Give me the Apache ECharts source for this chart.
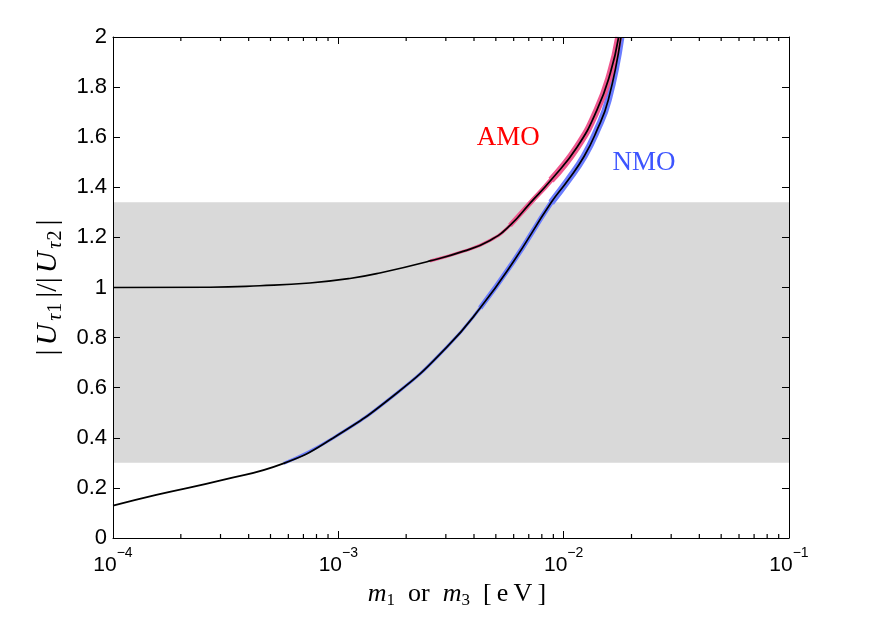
<!DOCTYPE html>
<html><head><meta charset="utf-8">
<script src="https://cdn.jsdelivr.net/npm/echarts@6/dist/echarts.min.js"></script>
<style>html,body{margin:0;padding:0;background:#fff}#c{width:872px;height:626px}</style>
</head><body><div id="c"></div>
<script>
// ---- data ----
const amoM = [1e-4, 2.685e-4, 4.48e-4, 7.47e-4, 1.125e-3, 1.528e-3, 2.551e-3, 3.574e-3, 4.71e-3, 5.78e-3, 7.10e-3, 8.79e-3, 1.148e-2, 1.406e-2, 1.61e-2, 1.753e-2];
const amoV = [1.0, 1.001, 1.007, 1.018, 1.036, 1.058, 1.106, 1.144, 1.188, 1.248, 1.337, 1.429, 1.561, 1.709, 1.855, 1.999];
const nmoM = [1e-4, 1.556e-4, 3.076e-4, 5.72e-4, 9.17e-4, 1.815e-3, 3.03e-3, 4.26e-3, 5.97e-3, 8.80e-3, 1.047e-2, 1.233e-2, 1.393e-2, 1.578e-2, 1.795e-2];
const nmoV = [0.129, 0.172, 0.232, 0.298, 0.391, 0.578, 0.762, 0.918, 1.102, 1.339, 1.429, 1.524, 1.620, 1.749, 1.999];
const shadedBand = [0.30, 1.34];
const xMajorTicks = [1e-4, 1e-3, 1e-2, 1e-1];
const xMinorTicks = [2e-4,3e-4,4e-4,5e-4,6e-4,7e-4,8e-4,9e-4,2e-3,3e-3,4e-3,5e-3,6e-3,7e-3,8e-3,9e-3,2e-2,3e-2,4e-2,5e-2,6e-2,7e-2,8e-2,9e-2];
const yRange = [0, 2];
const textLabels = ['AMO', 'NMO'];
const textLabelM = [5.68e-3, 2.27e-2];
const textLabelV = [1.597, 1.497];
const textLabelColors = ['#ff0000', '#3d55ff'];

const pairs = (ms, vs, from) => ms.map((m, i) => [m, vs[i]]).slice(from || 0);
const AMO_BAND = '#f0588f', NMO_BAND = '#6b7dff';

const chart = echarts.init(document.getElementById('c'), null, {renderer: 'canvas'});
const tickFont = 'Liberation Sans';
const serif = 'Liberation Serif';

function bandSeries(data, color, width) {
  return {type: 'line', data: data, showSymbol: false, smooth: 0.5,
    lineStyle: {color: color, width: width}, silent: true, z: 3};
}
function curveSeries(data) {
  return {type: 'line', data: data, showSymbol: false, smooth: 0.5,
    lineStyle: {color: '#000', width: 1.7}, z: 5, silent: true};
}
// minor x ticks (bottom and mirrored top, pointing inward), placed through the axis scale
function tickSeries(values, len) {
  return {type: 'custom', coordinateSystem: 'cartesian2d', xAxisIndex: 0, yAxisIndex: 0,
    data: values.map(v => [v, yRange[0]]), clip: false, silent: true, z: 8,
    renderItem: (params, api) => {
      const pb = api.coord([api.value(0), yRange[0]]);
      const pt = api.coord([api.value(0), yRange[1]]);
      const st = {stroke: '#000', lineWidth: 1.2};
      return {type: 'group', children: [
        {type: 'line', shape: {x1: pb[0], y1: pb[1], x2: pb[0], y2: pb[1] - len}, style: st},
        {type: 'line', shape: {x1: pt[0], y1: pt[1], x2: pt[0], y2: pt[1] + len}, style: st}
      ]};
    }};
}
const majorTick = {show: true, inside: true, length: 7, lineStyle: {color: '#000', width: 1}};

const option = {
  animation: false,
  backgroundColor: '#fff',
  grid: {left: 113, right: 83, top: 37, bottom: 88},
  xAxis: [
    {type: 'log', logBase: 10, min: xMajorTicks[0], max: xMajorTicks[3], position: 'bottom', z: 10,
     axisLine: {onZero: false, lineStyle: {color: '#000', width: 1}},
     axisTick: majorTick,
     splitLine: {show: false},
     axisLabel: {margin: 8, color: '#000',
       formatter: v => { const e = Math.round(Math.log10(v)); return '{b|10}{s|' + (e < 0 ? '\u2212' : '') + Math.abs(e) + '}'; },
       rich: {
         b: {fontFamily: tickFont, fontSize: 21, color: '#000', lineHeight: 30, verticalAlign: 'bottom'},
         s: {fontFamily: tickFont, fontSize: 14, color: '#000', lineHeight: 10, verticalAlign: 'top'}
       }},
     name: '{p|}{i|m}{u|1}{r|  or  }{i|m}{u|3}{r|  [\u2009e\u2009V\u2009]}', nameLocation: 'middle', nameGap: 32,
     nameTextStyle: {rich: {
       p: {width: 12, lineHeight: 10},
       i: {fontFamily: serif, fontStyle: 'italic', fontSize: 26, color: '#000', lineHeight: 28, verticalAlign: 'top'},
       r: {fontFamily: serif, fontSize: 26, color: '#000', lineHeight: 28, verticalAlign: 'top'},
       u: {fontFamily: serif, fontSize: 17, color: '#000', lineHeight: 10, verticalAlign: 'bottom'}
     }}},
    {type: 'log', logBase: 10, min: xMajorTicks[0], max: xMajorTicks[3], position: 'top', z: 10,
     axisLine: {onZero: false, lineStyle: {color: '#000', width: 1}},
     axisTick: majorTick, axisLabel: {show: false}, splitLine: {show: false}}
  ],
  yAxis: [
    {type: 'value', min: yRange[0], max: yRange[1], interval: 0.2, position: 'left', z: 10,
     axisLine: {show: true, onZero: false, lineStyle: {color: '#000', width: 1}},
     axisTick: majorTick,
     splitLine: {show: false},
     axisLabel: {margin: 6, color: '#000', fontFamily: tickFont, fontSize: 22},
     name: '{b||}{i|U}{t|\u03c4}{d|1}{b||/|}{i|U}{t|\u03c4}{d|2}{b||}',
     nameLocation: 'middle', nameGap: 30, nameRotate: 90,
     nameTextStyle: {rich: {
       i: {fontFamily: serif, fontStyle: 'italic', fontSize: 30, color: '#000', lineHeight: 32, verticalAlign: 'top', padding: [0, 1, 0, 1]},
       b: {fontFamily: serif, fontSize: 30, color: '#000', lineHeight: 32, verticalAlign: 'top', padding: [0, 3, 0, 3]},
       t: {fontFamily: serif, fontStyle: 'italic', fontSize: 20, color: '#000', lineHeight: 10, verticalAlign: 'bottom', padding: [0, 1, 0, 2]},
       d: {fontFamily: serif, fontSize: 20, color: '#000', lineHeight: 10, verticalAlign: 'bottom', padding: [0, 2, 0, 0]}
     }}},
    {type: 'value', min: yRange[0], max: yRange[1], interval: 0.2, position: 'right', z: 10,
     axisLine: {show: true, onZero: false, lineStyle: {color: '#000', width: 1}},
     axisTick: majorTick,
     axisLabel: {show: false}, splitLine: {show: false}}
  ],
  series: [
    tickSeries(xMinorTicks, 4),
    {type: 'line', data: [], silent: true, z: 1,
     markArea: {silent: true, itemStyle: {color: '#d9d9d9'},
       data: [[{yAxis: shadedBand[0]}, {yAxis: shadedBand[1]}]]}},
    bandSeries(pairs(nmoM, nmoV, 3), NMO_BAND, 3),
    bandSeries(pairs(nmoM, nmoV, 7), NMO_BAND, 5),
    bandSeries(pairs(nmoM, nmoV, 9), NMO_BAND, 7),
    bandSeries(pairs(amoM, amoV, 6), AMO_BAND, 3),
    bandSeries(pairs(amoM, amoV, 9), AMO_BAND, 5),
    bandSeries(pairs(amoM, amoV, 11), AMO_BAND, 7),
    curveSeries(pairs(amoM, amoV)),
    curveSeries(pairs(nmoM, nmoV)),
    {type: 'scatter', symbolSize: 0.1, itemStyle: {color: '#ffffff', opacity: 1}, z: 6, silent: true,
     data: textLabels.map((t, i) => ({name: t, value: [textLabelM[i], textLabelV[i]],
       label: {show: true, position: 'inside', formatter: '{b}', color: textLabelColors[i], opacity: 1,
               fontFamily: serif, fontSize: 27}}))}
  ]
};
chart.setOption(option);
</script></body></html>
